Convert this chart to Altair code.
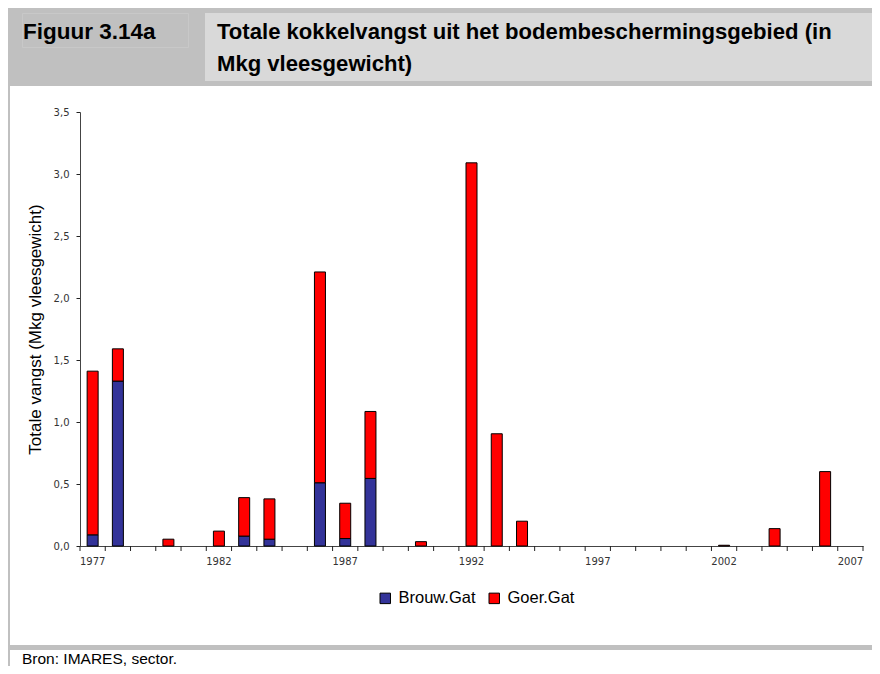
import altair as alt
import pandas as pd

# ---- data ----
years = list(range(1977, 2008))
series = ["Brouw.Gat", "Goer.Gat"]
brouw_gat = [0.09, 1.33, 0, 0, 0, 0, 0.08, 0.055, 0, 0.51, 0.06, 0.545,
             0, 0, 0, 0, 0, 0,
             0, 0, 0, 0, 0, 0, 0,
             0, 0, 0, 0, 0, 0]
goer_gat = [1.32, 0.26, 0, 0.055, 0, 0.12, 0.31, 0.325, 0, 1.70, 0.285, 0.54,
            0, 0.035, 0, 3.09, 0.905, 0.20,
            0, 0, 0, 0, 0, 0, 0,
            0.006, 0, 0.14, 0, 0.60, 0]
colors = ["#333399", "#FF0000"]
year_labels = [1977, 1982, 1987, 1992, 1997, 2002, 2007]
y_ticks = [0, 0.5, 1.0, 1.5, 2.0, 2.5, 3.0, 3.5]
fig_label = "Figuur 3.14a"
title_lines = ["Totale kokkelvangst uit het bodembeschermingsgebied (in",
               "Mkg vleesgewicht)"]
y_title = "Totale vangst (Mkg vleesgewicht)"
source_text = "Bron: IMARES, sector."

rows = []
for i, yr in enumerate(years):
    for k, (s, vals) in enumerate(zip(series, [brouw_gat, goer_gat])):
        if vals[i] > 0:
            rows.append({"year": yr, "serie": s, "value": vals[i], "order": k})
df = pd.DataFrame(rows)

W, H = 783, 434
FONT = "Liberation Sans"
one = pd.DataFrame({"a": [0]})

xscale = alt.Scale(type="band", domain=years, paddingInner=0, paddingOuter=0)


def rect(x, x2, y, y2, fill, stroke=None):
    kw = {"fill": fill}
    if stroke:
        kw = {"fillOpacity": 0, "stroke": stroke, "strokeWidth": 1}
    return alt.Chart(one).mark_rect(**kw).encode(
        x=alt.value(x), x2=alt.value(x2), y=alt.value(y), y2=alt.value(y2))


def txt(s, x, y, size, weight="normal"):
    return alt.Chart(one).mark_text(
        align="left", baseline="alphabetic", font=FONT, fontSize=size,
        fontWeight=weight, color="black").encode(
        x=alt.value(x), y=alt.value(y), text=alt.value(s))


deco = [
    rect(-72, 800, -104, -26, "#C0C0C0"),
    rect(125, 800, -99, -31, "#D9D9D9"),
    rect(-57.5, 108.5, -98.5, -64.5, None, stroke="#C8C8C8"),
    rect(-72, -70, -26, 560, "#C0C0C0"),
    rect(-70, 800, 533, 538, "#C0C0C0"),
    txt(fig_label, -57, -73, 22.5, "bold"),
    txt(title_lines[0], 137, -73, 22.1, "bold"),
    txt(title_lines[1], 137, -41, 22.1, "bold"),
    txt(source_text, -58, 552, 15.5),
]

bars = alt.Chart(df).mark_bar(size=11, stroke="black", strokeWidth=1).encode(
    x=alt.X("year:O", scale=xscale, title=None,
            axis=alt.Axis(values=year_labels, ticks=False, labelAngle=0,
                          labelFont="DejaVu Sans", labelFontSize=10,
                          labelColor="#333", labelPadding=10,
                          domainColor="#444", domainWidth=1)),
    y=alt.Y("value:Q", stack="zero",
            scale=alt.Scale(domain=[0, 3.5], nice=False),
            axis=alt.Axis(values=y_ticks, grid=False, tickSize=4,
                          tickColor="#222", domainColor="#444",
                          labelExpr="replace(format(datum.value, '.1f'), '.', ',')",
                          labelFont="DejaVu Sans", labelFontSize=10,
                          labelColor="#333", labelPadding=7,
                          title=y_title, titleFont=FONT, titleFontSize=17,
                          titleFontWeight="normal", titleColor="black",
                          titleX=-45, titleY=H / 2, titleAngle=270,
                          titleBaseline="middle", titleAlign="center")),
    color=alt.Color("serie:N", scale=alt.Scale(domain=series, range=colors),
                    legend=alt.Legend(orient="none", legendX=297, legendY=478,
                                      direction="horizontal", title=None,
                                      symbolType="square", symbolSize=110,
                                      symbolStrokeColor="black",
                                      symbolStrokeWidth=1, labelFont=FONT,
                                      labelFontSize=16.5, labelColor="black",
                                      columnPadding=10, labelOffset=5)),
    order=alt.Order("order:Q"),
)

tick_df = pd.DataFrame({"year": years})
ticks_start = alt.Chart(tick_df).mark_rule(color="#222").encode(
    x=alt.X("year:O", scale=xscale, bandPosition=0),
    y=alt.value(H), y2=alt.value(H + 5))
ticks_end = alt.Chart(tick_df.tail(1)).mark_rule(color="#222").encode(
    x=alt.X("year:O", scale=xscale, bandPosition=1),
    y=alt.value(H), y2=alt.value(H + 5))

chart = alt.layer(*deco, bars, ticks_start, ticks_end).properties(
    width=W, height=H,
    autosize=alt.AutoSizeParams(type="none"),
    padding={"left": 72, "top": 104, "right": 9, "bottom": 120},
    background="white",
).configure_view(stroke=None)

chart.save("out.html", embed_options={"renderer": "svg", "actions": False})
